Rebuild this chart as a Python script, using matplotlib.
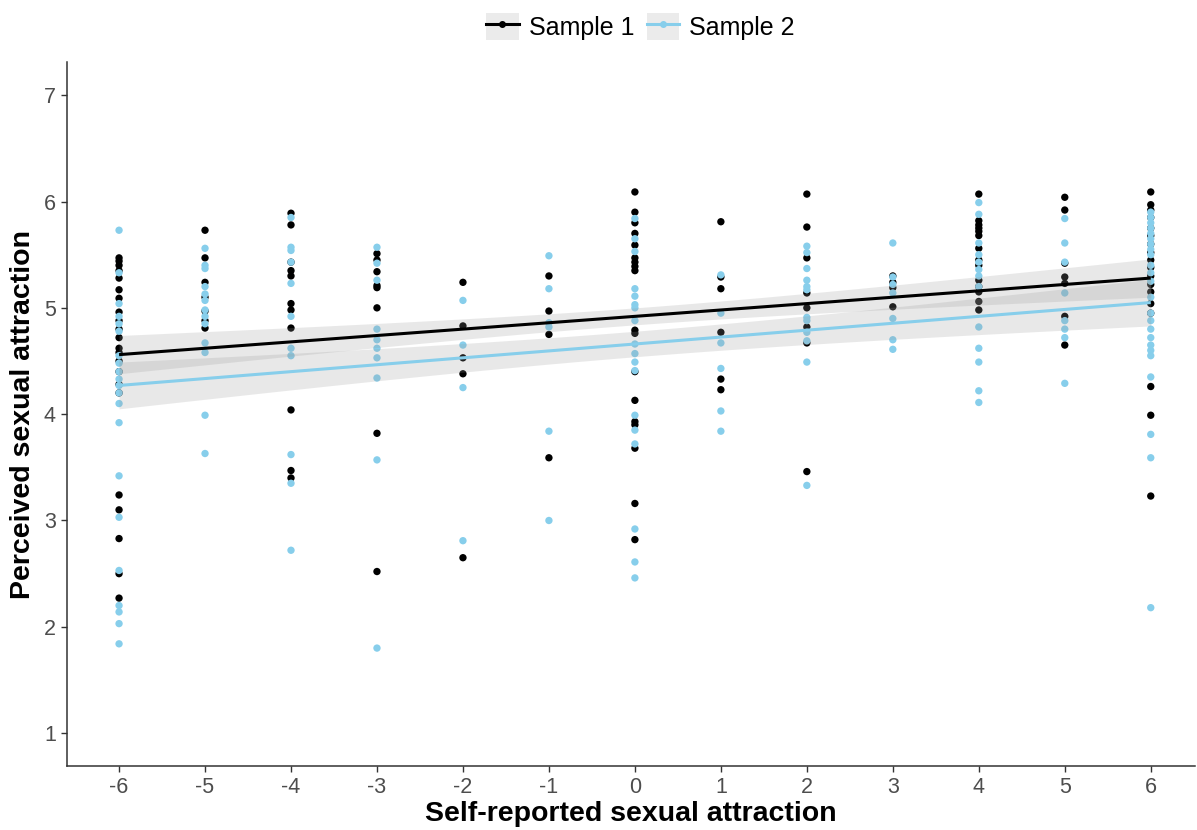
import matplotlib
matplotlib.use("Agg")
import matplotlib.pyplot as plt
import numpy as np
from matplotlib.patches import Patch
from matplotlib.lines import Line2D
from matplotlib.legend_handler import HandlerTuple

plt.rcParams['font.family'] = ['Liberation Sans', 'DejaVu Sans']

# ---------------- data ----------------
x_levels = [-6, -5, -4, -3, -2, -1, 0, 1, 2, 3, 4, 5, 6]

sample1_y = [
    [5.47, 5.44, 5.40, 5.35, 5.28, 5.17, 5.09, 4.96, 4.88, 4.80, 4.72, 4.62, 4.58, 4.50, 4.40, 4.28, 4.20, 3.24, 3.10, 2.83, 2.50, 2.27],
    [5.73, 5.47, 5.24, 5.10, 4.97, 4.88, 4.81],
    [5.89, 5.78, 5.43, 5.35, 5.30, 5.04, 4.98, 4.81, 4.04, 3.47, 3.40],
    [5.51, 5.45, 5.34, 5.21, 5.19, 5.00, 3.82, 2.52],
    [5.24, 4.83, 4.53, 4.38, 2.65],
    [5.30, 4.97, 4.75, 3.59],
    [6.09, 5.90, 5.80, 5.70, 5.59, 5.47, 5.43, 5.39, 5.35, 4.79, 4.76, 4.40, 4.13, 3.93, 3.90, 3.68, 3.16, 2.82],
    [5.81, 5.29, 5.18, 4.77, 4.33, 4.23],
    [6.07, 5.76, 5.47, 5.14, 5.00, 4.82, 4.67, 3.46],
    [5.30, 5.24, 5.19, 5.01],
    [6.07, 5.82, 5.78, 5.75, 5.72, 5.68, 5.56, 5.45, 5.40, 5.26, 5.20, 5.15, 5.06, 4.98],
    [6.04, 5.92, 5.42, 5.29, 5.23, 4.92, 4.65],
    [6.09, 5.97, 5.92, 5.85, 5.75, 5.68, 5.60, 5.52, 5.45, 5.38, 5.30, 5.22, 5.15, 5.04, 4.95, 4.26, 3.99, 3.23],
]

sample2_y = [
    [5.73, 5.33, 5.04, 4.92, 4.85, 4.78, 4.55, 4.48, 4.40, 4.33, 4.27, 4.20, 4.10, 3.92, 3.42, 3.03, 2.53, 2.20, 2.14, 2.03, 1.84],
    [5.56, 5.40, 5.37, 5.20, 5.13, 5.07, 4.98, 4.92, 4.85, 4.67, 4.58, 3.99, 3.63],
    [5.85, 5.57, 5.54, 5.43, 5.23, 4.92, 4.62, 4.55, 3.62, 3.35, 2.72],
    [5.57, 5.42, 5.26, 4.80, 4.70, 4.62, 4.53, 4.34, 3.57, 1.80],
    [5.07, 4.65, 4.25, 2.81],
    [5.49, 5.18, 4.86, 4.82, 3.84, 3.00],
    [5.84, 5.65, 5.53, 5.18, 5.11, 5.03, 5.00, 4.88, 4.66, 4.57, 4.49, 4.41, 3.99, 3.85, 3.72, 2.92, 2.61, 2.46],
    [5.31, 4.95, 4.67, 4.43, 4.03, 3.84],
    [5.58, 5.52, 5.37, 5.26, 5.20, 5.17, 4.91, 4.88, 4.77, 4.69, 4.49, 3.33],
    [5.61, 5.29, 5.22, 5.14, 4.90, 4.70, 4.61],
    [5.99, 5.88, 5.61, 5.50, 5.43, 5.36, 5.30, 5.20, 4.82, 4.62, 4.49, 4.22, 4.11],
    [5.84, 5.61, 5.43, 5.14, 4.88, 4.80, 4.72, 4.29],
    [5.90, 5.85, 5.80, 5.75, 5.70, 5.65, 5.60, 5.55, 5.50, 5.40, 5.33, 5.25, 5.10, 4.95, 4.88, 4.80, 4.72, 4.65, 4.60, 4.55, 4.35, 3.81, 3.59, 2.18],
]

# fitted line values at x = -6 and x = 6
fit1_ends = [4.56, 5.28]
fit2_ends = [4.27, 5.05]
# confidence band half-widths: [at centre x=0, at ends x=+-6]
ci1_halfwidth = [0.08, 0.18]
ci2_halfwidth = [0.12, 0.22]

series_labels = ["Sample 1", "Sample 2"]
series_colors = ["#000000", "#87CEEB"]
y_ticks = [1, 2, 3, 4, 5, 6, 7]

# ---------------- plot ----------------
fig = plt.figure(figsize=(11.97, 8.30), dpi=100)
ax = fig.add_axes([0.056, 0.077, 0.942, 0.848])

def flat(ylists):
    xs, ys = [], []
    for xv, yl in zip(x_levels, ylists):
        xs.extend([xv] * len(yl))
        ys.extend(yl)
    return np.array(xs), np.array(ys)

band_color = "#999999"
xx = np.linspace(-6, 6, 200)

for ylists, col in [(sample1_y, series_colors[0]), (sample2_y, series_colors[1])]:
    xs, ys = flat(ylists)
    ax.scatter(xs, ys, s=28, color=col, edgecolors='none', zorder=2)

for ends, ci, col in [(fit1_ends, ci1_halfwidth, series_colors[0]),
                      (fit2_ends, ci2_halfwidth, series_colors[1])]:
    line = np.interp(xx, [-6, 6], ends)
    hw = np.sqrt(ci[0] ** 2 + (ci[1] ** 2 - ci[0] ** 2) * (xx / 6.0) ** 2)
    ax.fill_between(xx, line - hw, line + hw, color=band_color, alpha=0.22,
                    linewidth=0, zorder=3)

for ends, col in [(fit1_ends, series_colors[0]), (fit2_ends, series_colors[1])]:
    ax.plot([-6, 6], ends, color=col, lw=2.2, zorder=4, solid_capstyle='butt')

ax.set_xlim(-6.605, 6.51)
ax.set_ylim(0.69, 7.31)
ax.set_xticks(x_levels)
ax.set_yticks(y_ticks)
ax.set_xticklabels([str(v) for v in x_levels])

for s in ['top', 'right']:
    ax.spines[s].set_visible(False)
for s in ['left', 'bottom']:
    ax.spines[s].set_color('#333333')
    ax.spines[s].set_linewidth(1.1)
ax.tick_params(axis='both', colors='#333333', labelcolor='#4d4d4d',
               labelsize=15.5, length=4, width=1.0, pad=4)

ax.set_xlabel("Self-reported sexual attraction", fontsize=20.5, fontweight='bold',
              labelpad=2)
ax.set_ylabel("Perceived sexual attraction", fontsize=20.5, fontweight='bold',
              labelpad=6)

handles = []
for col in series_colors:
    handles.append((Patch(facecolor='#ebebeb', edgecolor='none'),
                    Line2D([], [], color=col, lw=2.2, marker='o', markersize=4)))
leg = fig.legend(handles, series_labels, loc='center', bbox_to_anchor=(0.535, 0.968),
                 ncol=2, frameon=False, fontsize=18,
                 handler_map={tuple: HandlerTuple(ndivide=1, pad=0)},
                 handlelength=1.3, handleheight=1.3, columnspacing=0.5,
                 handletextpad=0.4)

fig.savefig("out.png", dpi=100)
